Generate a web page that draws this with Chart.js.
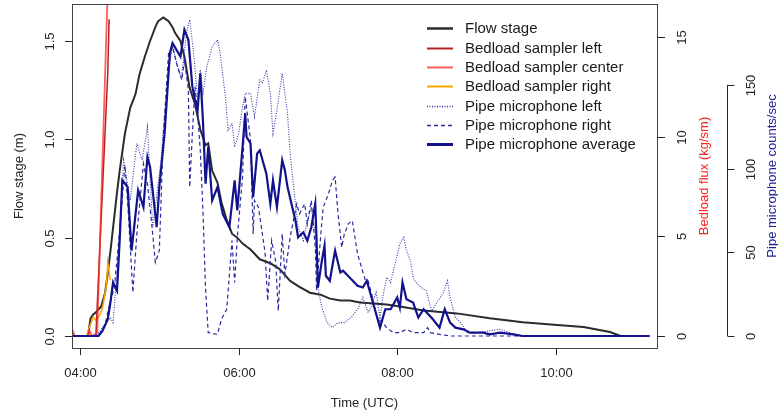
<!DOCTYPE html>
<html>
<head>
<meta charset="utf-8">
<title>Flow stage, bedload flux and pipe microphone</title>
<script src="https://cdn.jsdelivr.net/npm/chart.js@4.4.1/dist/chart.umd.min.js"></script>
<style>
    body { margin: 0; background: #ffffff; }
    canvas { display: block; }
</style>
</head>
<body>
<canvas id="chart" width="778" height="414"></canvas>
<script>
// time ticks and axis ticks
const timeTicks = ["04:00", "06:00", "08:00", "10:00"];
const stageTicks = ["0.0", "0.5", "1.0", "1.5"];
const fluxTicks = ["0", "5", "10", "15"];
const pipeTicks = ["0", "50", "100", "150"];

// flow stage (m)
const stageTimes = ["03:54","04:06","04:08","04:10","04:12","04:16","04:19","04:21","04:23","04:25",
    "04:28","04:30","04:34","04:38","04:42","04:45","04:49","04:53","04:57","04:59",
    "05:03","05:05","05:07","05:10","05:12","05:16","05:19","05:23","05:27","05:31",
    "05:35","05:37","05:40","05:44","05:47","05:51","05:55","05:59","06:03","06:09",
    "06:16","06:24","06:31","06:39","06:46","06:54","07:02","07:09","07:17","07:24",
    "07:32","07:42","07:52","08:02","08:20","08:45","09:10","09:35","10:01","10:21",
    "10:41","10:49"];
const stageValues = [0,0,0.09,0.11,0.12,0.15,0.22,0.32,0.43,0.55,
    0.73,0.84,1.03,1.16,1.23,1.33,1.42,1.50,1.57,1.60,
    1.62,1.61,1.60,1.57,1.54,1.50,1.42,1.26,1.18,1.05,
    0.97,0.98,0.84,0.78,0.68,0.59,0.52,0.50,0.47,0.44,
    0.39,0.37,0.34,0.28,0.25,0.22,0.21,0.19,0.18,0.18,
    0.17,0.165,0.16,0.15,0.13,0.115,0.09,0.07,0.056,0.046,
    0.02,0];

// bedload flux (kg/sm)
const bedLeftTimes = ["03:54","04:12","04:21","04:22"];
const bedLeftValues = [0,0,13.2,15.9];
const bedCenterTimes = ["03:54","03:55","03:56","04:06","04:07","04:09","04:13","04:21"];
const bedCenterValues = [0,0.2,0,0,0.3,0,0.15,17.5];
const bedRightTimes = ["03:54","04:05","04:06","04:10","04:12","04:15","04:17","04:20","04:21","04:23"];
const bedRightValues = [0,0,0.25,0.95,0.8,1.05,1.4,2.55,3.7,2.8];

// pipe microphone counts/sec
const pipeLeftTimes = ["03:54","04:12","04:17","04:23","04:25","04:29","04:33","04:38","04:43","04:47",
    "04:51","04:55","05:01","05:03","05:07","05:10","05:16","05:17","05:21","05:23",
    "05:26","05:29","05:31","05:33","05:36","05:40","05:44","05:46","05:50","05:52",
    "05:55","05:57","06:00","06:03","06:05","06:09","06:12","06:16","06:18","06:21",
    "06:24","06:26","06:29","06:33","06:37","06:39","06:43","06:45","06:49","06:52",
    "06:55","06:58","07:00","07:03","07:07","07:11","07:15","07:20","07:25","07:30",
    "07:34","07:38","07:40","07:44","07:47","07:49","07:52","07:55","07:57","07:59",
    "08:02","08:05","08:07","08:10","08:12","08:14","08:18","08:22","08:26","08:30",
    "08:35","08:38","08:40","08:44","08:48","08:53","09:00","09:18","09:25","09:31",
    "11:11"];
const pipeLeftValues = [0,0,5,11,8,49,105,81,115,105,
    125,65,103,123,159,173,155,157,183,189,
    169,141,159,145,161,173,177,169,143,123,
    127,113,121,137,145,145,131,153,151,159,
    145,121,135,157,133,109,79,65,57,69,
    77,61,29,17,8,5,8,8,11,16,
    23,14,17,26,11,23,35,32,39,45,
    55,59,51,45,35,32,29,27,15,20,
    26,33,23,11,8,2,2,4,2,0,
    0];

const pipeRightTimes = ["03:54","04:14","04:19","04:23","04:26","04:30","04:34","04:36","04:40","04:43",
    "04:48","04:51","04:54","04:57","05:00","05:03","05:07","05:10","05:13","05:17",
    "05:19","05:22","05:23","05:25","05:27","05:29","05:31","05:33","05:35","05:37",
    "05:44","05:47","05:51","05:55","05:57","05:59","06:03","06:05","06:09","06:11",
    "06:12","06:15","06:20","06:22","06:25","06:28","06:30","06:33","06:35","06:39",
    "06:44","06:46","06:50","06:52","06:55","06:58","06:59","07:02","07:04","07:08",
    "07:11","07:13","07:15","07:18","07:20","07:23","07:26","07:28","07:30","07:33",
    "07:36","07:38","07:42","07:45","07:49","07:52","07:57","08:02","08:07","08:12",
    "08:20","08:23","08:25","08:32","08:40","11:11"];
const pipeRightValues = [0,0,7,21,29,63,102,81,26,61,
    103,91,69,44,51,119,169,173,163,153,
    165,147,89,121,149,133,111,75,28,2,
    1,10,16,57,32,59,95,143,117,61,
    81,77,50,21,57,45,15,61,37,59,
    79,73,79,67,81,53,27,59,77,85,
    93,95,75,53,61,67,69,59,49,41,
    33,33,21,10,8,5,2,2,4,2,
    2,5,2,1,0,0];

const pipeAvgTimes = ["03:54","04:14","04:17","04:21","04:23","04:25","04:28","04:30","04:32","04:36",
    "04:39","04:44","04:48","04:51","04:53","04:58","05:00","05:04","05:08","05:10",
    "05:13","05:16","05:19","05:22","05:25","05:27","05:29","05:31","05:33","05:35",
    "05:37","05:40","05:44","05:48","05:53","05:57","05:59","06:03","06:05","06:06",
    "06:09","06:11","06:14","06:16","06:21","06:24","06:26","06:29","06:33","06:35",
    "06:37","06:40","06:43","06:45","06:49","06:52","06:55","06:58","06:59","07:00",
    "07:03","07:05","07:06","07:09","07:13","07:17","07:19","07:24","07:30","07:34",
    "07:37","07:42","07:47","07:51","07:55","08:00","08:02","08:04","08:07","08:12",
    "08:16","08:20","08:27","08:32","08:36","08:40","08:44","08:50","08:55","09:05",
    "09:10","09:18","09:28","09:35","11:11"];
const pipeAvgValues = [0,0,3,10,20,32,27,57,93,89,
    51,87,77,107,101,65,89,121,169,175,
    171,167,183,177,149,141,135,157,129,91,
    113,81,89,73,65,93,75,113,133,119,
    115,83,109,111,97,79,93,77,105,99,
    89,79,69,59,62,57,65,79,57,29,
    45,54,36,33,51,38,39,35,30,29,
    33,19,5,16,16,23,17,32,22,20,
    11,16,10,5,16,8,5,4,2,2,
    1,2,1,0,0];

const FONT = '"Liberation Sans", Arial, Helvetica, sans-serif';
const INK = "#262626";
const FLUX_RED = "#ff2020";
const PIPE_BLUE = "#1f1f99";

function hours(t)
{
    let p = t.split(":");
    return Number(p[0]) + Number(p[1]) / 60;
}

function series(times, values)
{
    let pts = [];
    for (let i = 0; i < Math.min(times.length, values.length); i++)
        pts.push({x: hours(times[i]), y: values[i]});
    return pts;
}

function vText(ctx, text, x, y)
{
    ctx.save();
    ctx.translate(x, y);
    ctx.rotate(-Math.PI / 2);
    ctx.textAlign = "center";
    ctx.textBaseline = "middle";
    ctx.fillText(text, 0, 0);
    ctx.restore();
}

function line(ctx, x1, y1, x2, y2)
{
    ctx.beginPath();
    ctx.moveTo(x1, y1);
    ctx.lineTo(x2, y2);
    ctx.stroke();
}

// R-like axes, box and legend drawn from the chart's own scales
const rAxes = {
    id: "rAxes",
    afterDraw(chart)
    {
        let ctx = chart.ctx;
        let a = chart.chartArea;
        let sx = chart.scales.x, sy = chart.scales.y;
        let sf = chart.scales.yFlux, sp = chart.scales.yPipe;
        ctx.save();
        ctx.lineWidth = 1;
        ctx.strokeStyle = "#444";
        ctx.strokeRect(a.left + 0.5, a.top + 0.5, a.right - a.left, a.bottom - a.top);

        ctx.font = "13px " + FONT;
        ctx.fillStyle = INK;
        ctx.strokeStyle = INK;

        // x axis
        ctx.textAlign = "center";
        ctx.textBaseline = "middle";
        for (let t of timeTicks)
        {
            let px = Math.round(sx.getPixelForValue(hours(t))) + 0.5;
            line(ctx, px, a.bottom, px, a.bottom + 7);
            ctx.fillText(t, px, 373);
        }
        ctx.fillText("Time (UTC)", (a.left + a.right) / 2, 403);

        // left axis: flow stage
        for (let t of stageTicks)
        {
            let py = Math.round(sy.getPixelForValue(Number(t))) + 0.5;
            line(ctx, a.left - 7, py, a.left, py);
            vText(ctx, t, 50, py);
        }
        vText(ctx, "Flow stage (m)", 19, (a.top + a.bottom) / 2);

        // first right axis: bedload flux
        for (let t of fluxTicks)
        {
            let py = Math.round(sf.getPixelForValue(Number(t))) + 0.5;
            line(ctx, a.right, py, a.right + 8, py);
            vText(ctx, t, 682, py);
        }
        ctx.fillStyle = FLUX_RED;
        vText(ctx, "Bedload flux (kg/sm)", 704, (a.top + a.bottom) / 2);

        // second right axis: pipe microphone
        ctx.fillStyle = INK;
        let ax = 727.5;
        line(ctx, ax, sp.getPixelForValue(0), ax, sp.getPixelForValue(150));
        for (let t of pipeTicks)
        {
            let py = Math.round(sp.getPixelForValue(Number(t))) + 0.5;
            line(ctx, ax, py, ax + 7, py);
            vText(ctx, t, 751, py);
        }
        ctx.fillStyle = PIPE_BLUE;
        vText(ctx, "Pipe microphone counts/sec", 772, (a.top + a.bottom) / 2);

        // legend
        ctx.font = "15px " + FONT;
        ctx.fillStyle = "#1a1a1a";
        ctx.textAlign = "left";
        let ds = chart.data.datasets;
        for (let i = 0; i < ds.length; i++)
        {
            let y = Math.round(28.3 + i * 19.3) + 0.5;
            ctx.save();
            ctx.strokeStyle = ds[i].borderColor;
            ctx.lineWidth = ds[i].legendWidth;
            ctx.setLineDash(ds[i].borderDash || []);
            line(ctx, 427, y, 453, y);
            ctx.restore();
            ctx.fillText(ds[i].label, 465, y);
        }
        ctx.restore();
    }
};

new Chart(document.getElementById("chart"), {
    type: "line",
    data: {
        datasets: [
            {label: "Flow stage", data: series(stageTimes, stageValues), yAxisID: "y",
                borderColor: "#2b2b2b", borderWidth: 2, legendWidth: 2.5, order: 7},
            {label: "Bedload sampler left", data: series(bedLeftTimes, bedLeftValues), yAxisID: "yFlux",
                borderColor: "#b22222", borderWidth: 1.5, legendWidth: 2, order: 5},
            {label: "Bedload sampler center", data: series(bedCenterTimes, bedCenterValues), yAxisID: "yFlux",
                borderColor: "rgba(255,40,40,0.75)", borderWidth: 1.8, legendWidth: 2, order: 4},
            {label: "Bedload sampler right", data: series(bedRightTimes, bedRightValues), yAxisID: "yFlux",
                borderColor: "#ffa500", borderWidth: 1.5, legendWidth: 2, order: 6},
            {label: "Pipe microphone left", data: series(pipeLeftTimes, pipeLeftValues), yAxisID: "yPipe",
                borderColor: "#3535a8", borderWidth: 1.1, borderDash: [1, 1.5], legendWidth: 1.3, order: 3},
            {label: "Pipe microphone right", data: series(pipeRightTimes, pipeRightValues), yAxisID: "yPipe",
                borderColor: "#2a2aa0", borderWidth: 1.2, borderDash: [4, 3], legendWidth: 1.5, order: 2},
            {label: "Pipe microphone average", data: series(pipeAvgTimes, pipeAvgValues), yAxisID: "yPipe",
                borderColor: "#12128c", borderWidth: 2.2, legendWidth: 3, order: 1}
        ]
    },
    options: {
        responsive: false,
        animation: false,
        layout: {padding: {left: 72, top: 4, right: 121, bottom: 66}},
        elements: {
            point: {radius: 0},
            line: {tension: 0, fill: false, borderCapStyle: "butt"}
        },
        plugins: {legend: {display: false}, tooltip: {enabled: false}},
        scales: {
            x: {type: "linear", display: false, min: 3.899, max: 11.276},
            y: {type: "linear", display: false, min: -0.061, max: 1.688},
            yFlux: {type: "linear", display: false, min: -0.6, max: 16.66},
            yPipe: {type: "linear", display: false, min: -7.17, max: 198.4}
        }
    },
    plugins: [rAxes]
});
</script>
</body>
</html>
